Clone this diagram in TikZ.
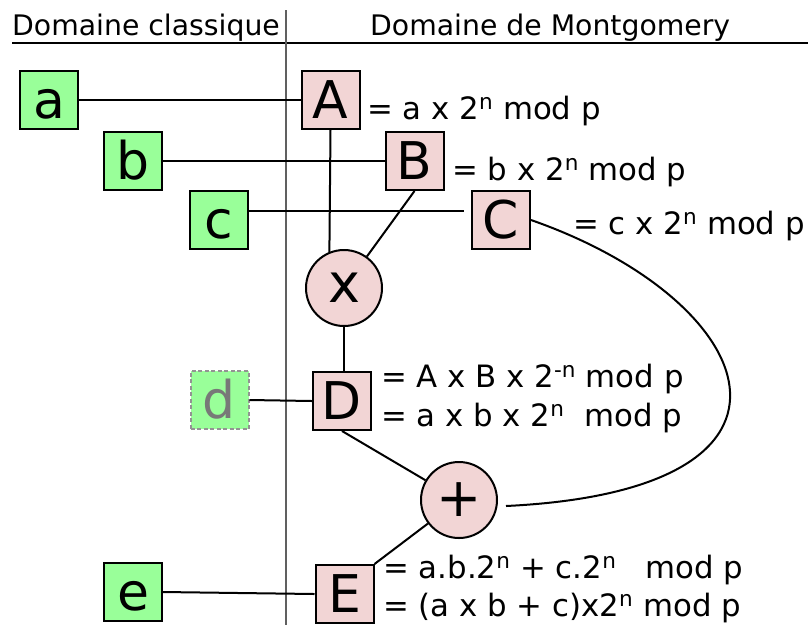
\documentclass[tikz,border=0pt]{standalone}
\usepackage{fontspec}
\setmainfont{DejaVu Sans}
\usetikzlibrary{calc}
\definecolor{vert}{RGB}{153,255,153}
\definecolor{rose}{RGB}{242,213,213}
\definecolor{gris}{RGB}{120,120,120}
\begin{document}
\begin{tikzpicture}[x=1pt,y=-1pt,
  cls/.style={draw=black,line width=2pt,fill=vert,minimum width=58pt,minimum height=58pt,inner sep=0pt,
    font=\fontsize{52}{52}\selectfont,text height=37pt,text depth=0pt},
  clsd/.style={cls,draw=gris!80,dash pattern=on 4pt off 2.5pt,line width=2pt,text=gris},
  mont/.style={cls,fill=rose},
  op/.style={circle,draw=black,line width=2pt,fill=rose,minimum size=76pt,inner sep=0pt,
    font=\fontsize{54}{54}\selectfont},
  lbl/.style={anchor=base west,inner sep=0pt,font=\fontsize{30.8}{36}\selectfont},
  hdr/.style={anchor=base west,inner sep=0pt,font=\fontsize{28.3}{32}\selectfont},
  wire/.style={line width=2pt,draw=black}
]
\useasboundingbox (0,0) rectangle (808,625);

% header
\node[hdr] (h1) at (12,35) {Domaine classique};
\node[hdr] (h2) at (370,35) {Domaine de Montgomery};
\coordinate (hl) at (12,43);
\coordinate (hr) at (808,43);
\coordinate (vt) at (286,10);
\coordinate (vb) at (286,625);
\draw[line width=1.5pt] (hl) -- (hr);
\draw[line width=1.5pt,draw=gris!80!black] (vt) -- (vb);

% classic domain
\node[cls] (a) at (49,99.5) {a};
\node[cls] (b) at (133,161) {b};
\node[cls] (c) at (219,220) {c};
\node[clsd] (d) at (219.5,400) {d};
\node[cls] (e) at (133,592) {e};

% Montgomery domain
\node[mont] (A) at (330.5,99.5) {A};
\node[mont] (B) at (414.5,161) {B};
\node[mont] (C) at (501,220) {C};
\node[mont] (D) at (342,401) {D};
\node[mont] (E) at (344.5,594) {E};
\node[op] (X) at (344,288) {x};
\node[op] (P) at (459,500) {+};

% labels
\node[lbl] (la) at (367,119) {= a x 2\textsuperscript{n} mod p};
\node[lbl] (lb) at (452,180) {= b x 2\textsuperscript{n} mod p};
\node[lbl] (lc) at (573,234) {= c x 2\textsuperscript{n} mod p};
\node[lbl] (ld1) at (381,387) {= A x B x 2\textsuperscript{-n} mod p};
\node[lbl] (ld2) at (381,426) {= a x b x 2\textsuperscript{n}\ \ mod p};
\node[lbl] (le1) at (383,578) {= a.b.2\textsuperscript{n} + c.2\textsuperscript{n}\ \ \ mod p};
\node[lbl] (le2) at (383,616) {= (a x b + c)x2\textsuperscript{n} mod p};

% connectors
\draw[wire] (a.east) -- (A.west);
\draw[wire] (b.east) -- (B.west);
\draw[wire,shorten >=7pt] ([yshift=9pt]c.east) -- ([yshift=9pt]C.west);
\draw[wire] (d.east) -- (D.west);
\draw[wire] (e.east) -- (E.west);
\draw[wire] (A.south) -- (X.112);
\draw[wire] (B.south) -- (X);
\draw[wire] (X.south) -- (X.south |- D.north);
\draw[wire] (D.south) -- (P);
\draw[wire] (P) -- (E.north east);
\coordinate (pe) at ($(P.east)+(8,6)$);
\draw[wire] (C.east) .. controls (760,300) and (840,490) .. (pe);
\end{tikzpicture}
\end{document}
